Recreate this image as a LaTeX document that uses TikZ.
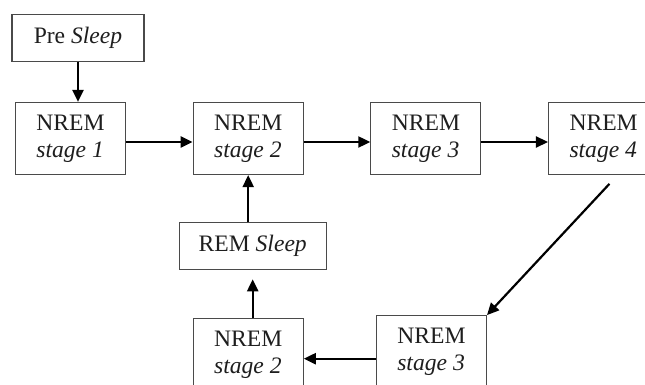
\documentclass[tikz,border=0pt]{standalone}
\usepackage{fontspec}
\setmainfont{Liberation Serif}
\usetikzlibrary{arrows.meta,positioning}
\definecolor{boxline}{HTML}{4A4A4A}
\definecolor{inktext}{HTML}{1E1E1E}

\begin{document}
\begin{tikzpicture}[
  x=0.5pt, y=-0.5pt,
  node distance=23.5pt and 33.25pt,
  stage/.style={draw=boxline, line width=0.6pt, minimum width=55pt, minimum height=36pt, inner sep=0pt, align=left, text=inktext, font=\fontsize{11.8}{13.5}\selectfont},
  phase/.style={draw=boxline, line width=0.6pt, minimum height=23.5pt, inner sep=0pt, text=inktext, font=\fontsize{11.8}{13.5}\selectfont},
  arr/.style={-{Triangle[length=6pt,width=5.5pt]}, line width=1.1pt}
]
\useasboundingbox (0,0) rectangle (645,385);

% top row
\node[stage] (s1) at (70.5,138.5) {NREM\\\textit{stage 1}};
\node[stage, right=of s1] (s2) {NREM\\\textit{stage 2}};
\node[stage, right=of s2] (s3) {NREM\\\textit{stage 3}};
\node[stage, right=of s3] (s4) {NREM\\\textit{stage 4}};
\node[phase, minimum width=66pt, above=20pt of s1, xshift=3.75pt] (pre) {Pre \textit{Sleep}};

% return path
\node[phase, minimum width=73.5pt, below=of s2, xshift=2.25pt] (rem) {REM \textit{Sleep}};
\node[stage, below=71.5pt of s2] (b2) {NREM\\\textit{stage 2}};
\node[stage, right=36pt of b2, yshift=1.5pt] (b3) {NREM\\\textit{stage 3}};

\draw[arr] (pre.south) -- (pre.south |- s1.north);
\draw[arr] ([yshift=-1.75pt]s1.east) -- ([yshift=-1.75pt]s2.west);
\draw[arr] ([yshift=-1.75pt]s2.east) -- ([yshift=-1.75pt]s3.west);
\draw[arr] ([yshift=-1.75pt]s3.east) -- ([yshift=-1.75pt]s4.west);
\draw[arr, shorten <=6pt] ([xshift=7pt]s4.south) -- (b3.north east);
\draw[arr] ([yshift=-3.5pt]b3.west) -- ([yshift=-3.5pt]b3.west -| b2.east);
\draw[arr, shorten >=4.5pt] (rem.south |- b2.north) -- (rem.south);
\draw[arr] (s2.south |- rem.north) -- (s2.south);
\end{tikzpicture}
\end{document}
